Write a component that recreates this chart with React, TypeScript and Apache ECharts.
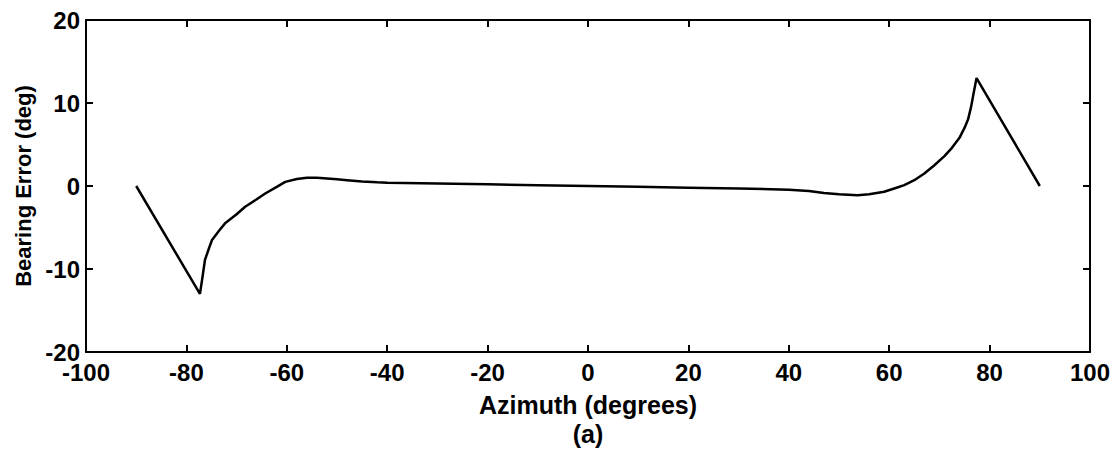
import React, { useEffect, useRef } from "react";
import * as echarts from "echarts";

const azimuth: number[] = [
  -90, -77.3, -76.8, -76.3, -75.5, -74.9, -73.5, -72.3, -70, -68.3, -66, -64.3, -62, -60.3, -58, -56, -54,
  -52, -50, -48, -45, -42, -40, -30, -20, -10, 0, 10, 20, 30, 40, 44, 47, 50, 53.7, 56, 59, 61, 63, 65,
  67, 69, 71, 72.5, 74, 75, 75.7, 76.3, 76.7, 77.4, 90,
];
const bearingError: number[] = [
  0, -13, -11, -8.9, -7.5, -6.5, -5.4, -4.5, -3.4, -2.5, -1.6, -0.9, -0.1, 0.5, 0.85, 1.0, 1.0,
  0.9, 0.8, 0.7, 0.55, 0.45, 0.4, 0.3, 0.2, 0.1, 0, -0.1, -0.2, -0.3, -0.45, -0.6, -0.85, -1.0, -1.1, -1.0,
  -0.7, -0.3, 0.1, 0.7, 1.5, 2.5, 3.6, 4.6, 5.8, 7.0, 8, 9.5, 10.8, 13, 0,
];
const xTitle = "Azimuth (degrees)";
const yTitle = "Bearing Error (deg)";
const caption = "(a)";

const FONT = "'Liberation Sans', Arial, Helvetica, sans-serif";

export default function App() {
  const ref = useRef<HTMLDivElement>(null);
  useEffect(() => {
    if (!ref.current) return;
    const chart = echarts.init(ref.current, null, { renderer: "svg" });
    const axisLine = { show: true, onZero: false, lineStyle: { color: "#000", width: 2 } };
    const axisTick = { show: true, inside: true, length: 7, lineStyle: { color: "#000", width: 2 } };
    const label = { color: "#000", fontSize: 24, fontWeight: "bold" as const, fontFamily: FONT };
    chart.setOption({
      animation: false,
      backgroundColor: "#fff",
      grid: { left: 86, top: 20, width: 1004, height: 332, containLabel: false },
      xAxis: [
        {
          type: "value", min: -100, max: 100, interval: 20, position: "bottom",
          axisLine, axisTick, splitLine: { show: false },
          axisLabel: { ...label, margin: 8 },
        },
        {
          type: "value", min: -100, max: 100, interval: 20, position: "top",
          axisLine, axisTick, splitLine: { show: false }, axisLabel: { show: false },
        },
      ],
      yAxis: [
        {
          type: "value", min: -20, max: 20, interval: 10, position: "left",
          axisLine, axisTick, splitLine: { show: false },
          axisLabel: { ...label, margin: 6 },
        },
        {
          type: "value", min: -20, max: 20, interval: 10, position: "right",
          axisLine, axisTick, splitLine: { show: false }, axisLabel: { show: false },
        },
      ],
      series: [
        {
          type: "line",
          data: azimuth.map((x, i) => [x, bearingError[i]]),
          showSymbol: false,
          smooth: false,
          lineStyle: { color: "#000", width: 2.5 },
        },
      ],
      graphic: [
        {
          type: "text", x: 588, y: 405,
          style: { text: xTitle, font: `bold 25px ${FONT}`, fill: "#000", align: "center", verticalAlign: "middle" },
        },
        {
          type: "text", x: 588, y: 434,
          style: { text: caption, font: `bold 25px ${FONT}`, fill: "#000", align: "center", verticalAlign: "middle" },
        },
        {
          type: "text", x: 23, y: 186, rotation: Math.PI / 2,
          style: { text: yTitle, font: `bold 22px ${FONT}`, fill: "#000", align: "center", verticalAlign: "middle" },
        },
      ],
    });
    return () => chart.dispose();
  }, []);
  return <div ref={ref} style={{ position: "fixed", left: 0, top: 0, width: 1120, height: 459 }} />;
}
